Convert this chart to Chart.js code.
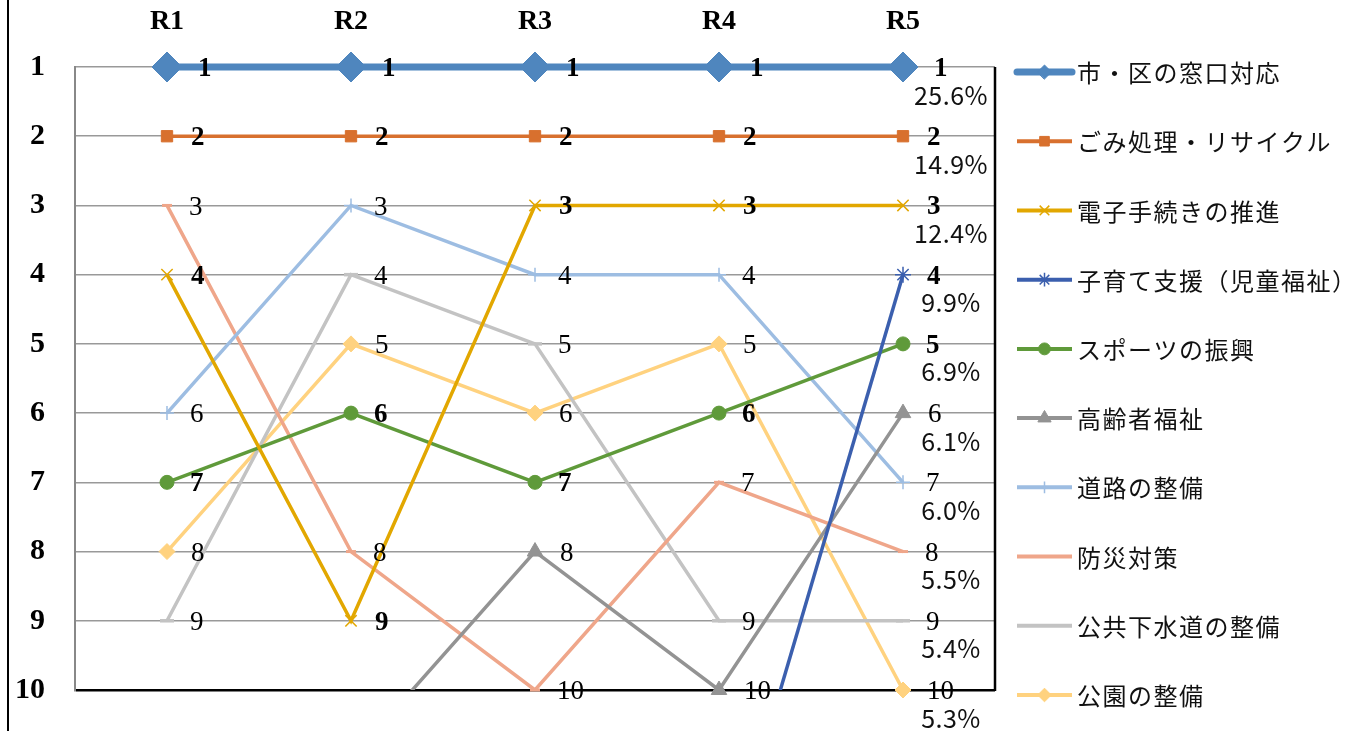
<!DOCTYPE html>
<html>
<head>
<meta charset="utf-8">
<script src="https://cdn.jsdelivr.net/npm/chart.js@4"></script>
<style>
  html, body { margin: 0; padding: 0; background: #fff; }
  #wrap { width: 1369px; height: 731px; position: relative; }
</style>
</head>
<body>
<div id="wrap"><canvas id="c" width="1369" height="731"></canvas></div>
<script>
// ---- data ----
const categories = ['R1', 'R2', 'R3', 'R4', 'R5'];
const seriesNames = ['市・区の窓口対応', 'ごみ処理・リサイクル', '電子手続きの推進', '子育て支援（児童福祉）', 'スポーツの振興',
                     '高齢者福祉', '道路の整備', '防災対策', '公共下水道の整備', '公園の整備'];
const madoguchi = [1, 1, 1, 1, 1];
const gomi      = [2, 2, 2, 2, 2];
const denshi    = [4, 9, 3, 3, 3];
const kosodate  = [null, null, null, 13, 4];
const sports    = [7, 6, 7, 6, 5];
const koureisha = [null, 11, 8, 10, 6];
const douro     = [6, 3, 4, 4, 7];
const bousai    = [3, 8, 10, 7, 8];
const gesuidou  = [9, 4, 5, 9, 9];
const kouen     = [8, 5, 6, 5, 10];
const shareR5   = ['25.6%', '14.9%', '12.4%', '9.9%', '6.9%', '6.1%', '6.0%', '5.5%', '5.4%', '5.3%'];
const rankMin = 1, rankMax = 10;

// ---- styles ----
const styles = [
  { color: '#4F86BE', width: 7,   style: 'rectRot',  r: 15, bw: 1,   bold: true  },
  { color: '#D8702E', width: 3.5, style: 'rect',     r: 8,  bw: 1,   bold: true  },
  { color: '#E2A700', width: 3.5, style: 'crossRot', r: 8,  bw: 1.5, bold: true  },
  { color: '#3B5FAE', width: 3.5, style: 'star',     r: 8,  bw: 1.5, bold: true  },
  { color: '#5F9A3A', width: 3.5, style: 'circle',   r: 7,  bw: 1,   bold: true  },
  { color: '#939393', width: 3.5, style: 'triangle', r: 9,  bw: 1,   bold: false },
  { color: '#9DBDE2', width: 3.5, style: 'cross',    r: 7,  bw: 1.5, bold: false },
  { color: '#EFA68A', width: 3.5, style: 'line',     r: 5,  bw: 3,   bold: false },
  { color: '#C3C3C3', width: 3.5, style: 'line',     r: 7,  bw: 3.5, bold: false },
  { color: '#FFD27F', width: 3.5, style: 'rectRot',  r: 8,  bw: 1,   bold: false }
];
const seriesData = [madoguchi, gomi, denshi, kosodate, sports, koureisha, douro, bousai, gesuidou, kouen];

// markers (drawn unclipped, only for ranks inside the axis)
const pointSets = seriesData.map((d, i) => ({
  label: seriesNames[i],
  data: d,
  showLine: false,
  order: 0,
  clip: false,
  borderColor: styles[i].color,
  backgroundColor: styles[i].color,
  pointStyle: styles[i].style,
  pointRadius: c => { const v = c.raw; return (v == null || v > rankMax) ? 0 : styles[i].r; },
  pointBorderWidth: styles[i].bw,
  pointBorderColor: styles[i].color,
  pointBackgroundColor: styles[i].color
}));
// lines (clipped at the bottom of the rank axis)
const lineSets = seriesData.map((d, i) => ({
  label: seriesNames[i] + '_line',
  data: d,
  order: 1 + i * 0.01,
  clip: { left: 20, top: 20, right: 20, bottom: 0 },
  borderColor: styles[i].color,
  backgroundColor: styles[i].color,
  borderWidth: styles[i].width,
  pointRadius: 0,
  tension: 0,
  spanGaps: false
}));
const datasets = pointSets.concat(lineSets);

const serif = "'Liberation Serif', 'DejaVu Serif', serif";
const jp = "'Noto Sans CJK JP', 'Noto Sans', sans-serif";

const extras = {
  id: 'extras',
  afterDatasetsDraw(chart) {
    const ctx = chart.ctx;
    const xs = chart.scales.x, ys = chart.scales.y;
    ctx.save();
    ctx.textBaseline = 'middle';
    ctx.textAlign = 'left';
    for (let i = 0; i < seriesData.length; i++) {
      const ds = chart.data.datasets[i];
      const meta = chart.getDatasetMeta(i);
      const off = Math.max(22, styles[i].r + 16);
      ctx.font = (styles[i].bold ? 'bold ' : '') + '27px ' + serif;
      ctx.fillStyle = '#000';
      meta.data.forEach((pt, j) => {
        const v = ds.data[j];
        if (v == null || v > rankMax || v < rankMin) return;
        ctx.fillText(String(v), pt.x + off, pt.y + 2);
      });
    }
    // percentages at R5
    ctx.font = '25px ' + jp;
    ctx.textAlign = 'center';
    ctx.fillStyle = '#111';
    try { ctx.letterSpacing = '0.5px'; } catch (e) {}
    const px = xs.getPixelForValue(categories.length - 1) + 48;
    shareR5.forEach((s, k) => {
      ctx.fillText(s, px, ys.getPixelForValue(k + 1) + 28);
    });
    try { ctx.letterSpacing = '0px'; } catch (e) {}
    ctx.restore();
  },
  afterDraw(chart) {
    const ctx = chart.ctx;
    const ys = chart.scales.y;
    const area = chart.chartArea;
    ctx.save();
    ctx.strokeStyle = '#000';
    ctx.lineWidth = 2.5;
    ctx.beginPath();
    ctx.moveTo(area.right, ys.getPixelForValue(rankMin));
    ctx.lineTo(area.right, ys.getPixelForValue(rankMax) + 1);
    ctx.stroke();
    ctx.lineWidth = 2;
    ctx.beginPath();
    ctx.moveTo(8, 0);
    ctx.lineTo(8, chart.height);
    ctx.stroke();
    // legend
    const H = Chart.helpers;
    const x0 = area.right + 22, x1 = area.right + 77, xm = (x0 + x1) / 2;
    seriesNames.forEach((name, i) => {
      const st = styles[i];
      const y = ys.getPixelForValue(i + 1) + 5;
      ctx.strokeStyle = st.color;
      ctx.lineWidth = i === 0 ? 7 : 4;
      ctx.lineCap = i === 0 ? 'round' : 'butt';
      ctx.beginPath();
      ctx.moveTo(x0, y);
      ctx.lineTo(x1, y);
      ctx.stroke();
      if (st.style !== 'line' && H && H.drawPoint) {
        ctx.fillStyle = st.color;
        ctx.strokeStyle = st.color;
        ctx.lineWidth = st.bw;
        H.drawPoint(ctx, { pointStyle: st.style, radius: i === 0 ? 7 : st.r * 0.85, borderWidth: st.bw, rotation: 0 }, xm, y);
      }
      ctx.fillStyle = '#111';
      ctx.font = '24px ' + jp;
      ctx.textAlign = 'left';
      ctx.textBaseline = 'middle';
      try { ctx.letterSpacing = '1.5px'; } catch (e) {}
      ctx.fillText(name, x1 + 5, y + 1);
      try { ctx.letterSpacing = '0px'; } catch (e) {}
    });
    ctx.restore();
  }
};

new Chart(document.getElementById('c'), {
  type: 'line',
  data: { labels: categories, datasets },
  options: {
    responsive: false,
    animation: false,
    devicePixelRatio: 1,
    layout: { padding: { left: 0, right: 374, top: 0, bottom: 41 } },
    plugins: { legend: { display: false }, tooltip: { enabled: false } },
    scales: {
      x: {
        type: 'category',
        position: 'top',
        offset: true,
        grid: { display: false, drawTicks: false },
        border: { display: false },
        ticks: { color: '#000', font: { family: serif, size: 28, weight: 'bold' }, padding: 28 },
        afterFit: s => { s.height = 67; }
      },
      y: {
        min: rankMin,
        max: rankMax,
        reverse: true,
        ticks: { stepSize: 1, color: '#000', font: { family: serif, size: 30, weight: 'bold' }, padding: 30 },
        grid: {
          drawTicks: false,
          color: c => (c.tick && c.tick.value === rankMax) ? '#000' : '#999',
          lineWidth: c => (c.tick && c.tick.value === rankMax) ? 2.5 : 1.5
        },
        border: { color: '#888', width: 2 },
        afterFit: s => { s.width = 75; s.paddingTop = 0; s.paddingBottom = 0; }
      }
    }
  },
  plugins: [extras]
});
</script>
</body>
</html>
